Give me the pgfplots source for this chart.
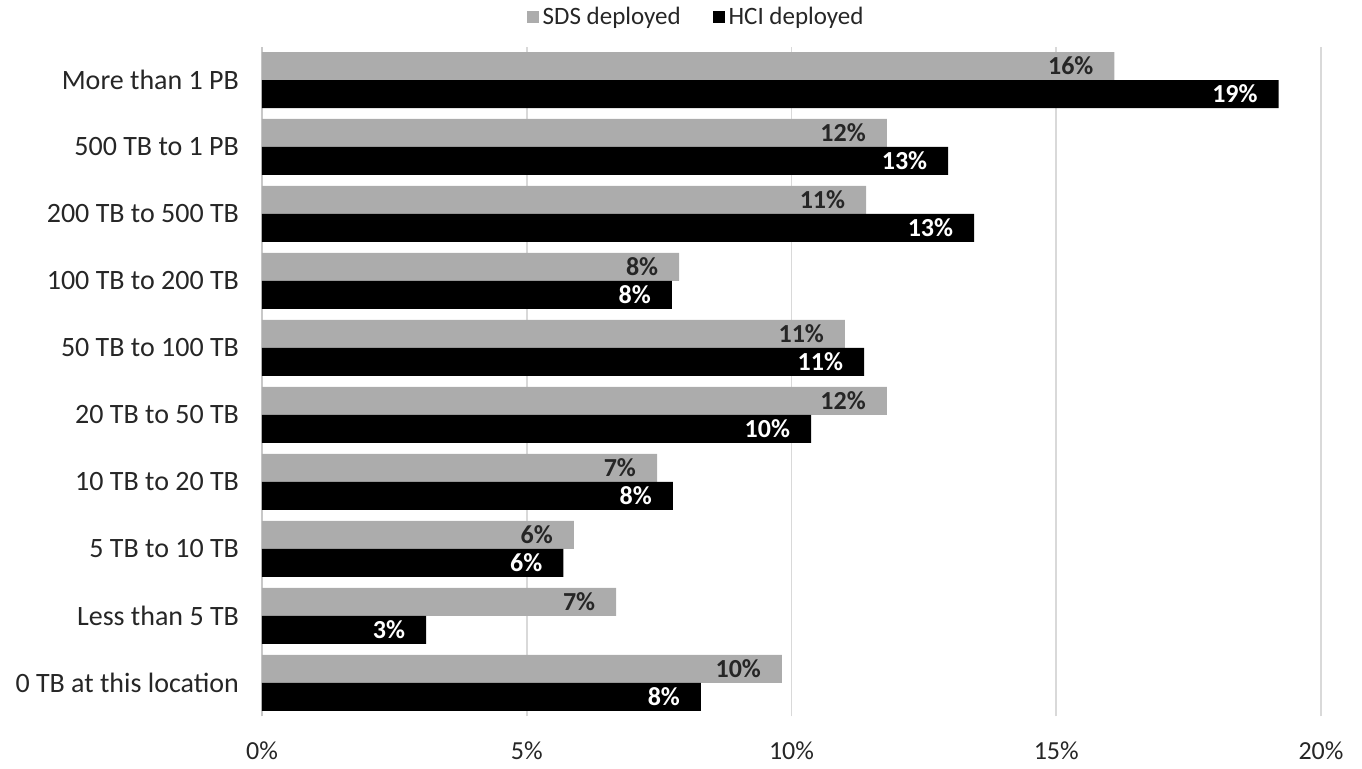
\documentclass[border=0pt]{standalone}
\usepackage{fontspec}
\setmainfont{Carlito}
\usepackage{pgfplots}
\pgfplotsset{compat=1.18}

\definecolor{sdsgray}{RGB}{172,172,172}
\definecolor{gridgray}{RGB}{217,217,217}
\definecolor{axisgray}{RGB}{200,200,200}
\definecolor{labeltext}{RGB}{38,38,38}

\begin{document}
\begin{tikzpicture}
\begin{axis}[
  at={(0pt,0pt)}, anchor=south west,
  scale only axis, width=529.5pt, height=335pt,
  xbar, bar width=14pt,
  xmin=0, xmax=20, ymin=-0.5, ymax=9.5,
  xtick={0,5,10,15,20},
  xticklabel={\pgfmathprintnumber{\tick}\%},
  ytick={0,1,2,3,4,5,6,7,8,9},
  yticklabels={0 TB at this location, Less than 5 TB, 5 TB to 10 TB,
    10 TB to 20 TB, 20 TB to 50 TB, 50 TB to 100 TB, 100 TB to 200 TB,
    200 TB to 500 TB, 500 TB to 1 PB, More than 1 PB},
  major tick length=0pt,
  xmajorgrids, grid style={gridgray, line width=0.9pt},
  extra x ticks={0}, extra x tick labels={},
  extra x tick style={grid style={axisgray, line width=0.9pt}},
  axis line style={draw=none},
  /pgf/number format/assume math mode=true,
  xticklabel style={font=\fontsize{13}{15}\selectfont, text=labeltext, yshift=-9pt},
  yticklabel style={font=\fontsize{14}{16}\selectfont, text=labeltext, xshift=-8pt},
  point meta=x,
  legend columns=2,
  legend style={at={(0.411,1)}, anchor=center, yshift=14.75pt,
    draw=none, fill=none, font=\fontsize{12.5}{14}\selectfont, text=labeltext,
    /tikz/every even column/.append style={column sep=14pt}},
]
% software-defined storage
\addplot+[forget plot, draw=none, fill=sdsgray, bar shift=7pt,
  nodes near coords={\pgfmathprintnumber[fixed,precision=0]{\pgfplotspointmeta}\%},
  every node near coord/.append style={anchor=east, xshift=-7pt, text=labeltext,
    font=\bfseries\fontsize{13}{15}\selectfont}]
  coordinates {
    (9.82,0) (6.69,1) (5.89,2) (7.46,3) (11.8,4)
    (11.01,5) (7.88,6) (11.41,7) (11.8,8) (16.1,9)
  };
% hyperconverged infrastructure
\addplot+[forget plot, draw=none, fill=black, bar shift=-7pt,
  nodes near coords={\pgfmathprintnumber[fixed,precision=0]{\pgfplotspointmeta}\%},
  every node near coord/.append style={anchor=east, xshift=-7pt, text=white,
    font=\bfseries\fontsize{13}{15}\selectfont}]
  coordinates {
    (8.29,0) (3.1,1) (5.69,2) (7.76,3) (10.37,4)
    (11.37,5) (7.74,6) (13.45,7) (12.96,8) (19.2,9)
  };
\addlegendimage{legend image code/.code={\fill[sdsgray] (0pt,-2.75pt) rectangle (5.5pt,2.75pt);}}
\addlegendentry{SDS deployed}
\addlegendimage{legend image code/.code={\fill[black] (0pt,-2.75pt) rectangle (5.5pt,2.75pt);}}
\addlegendentry{HCI deployed}
\end{axis}
\pgfresetboundingbox
\path[use as bounding box] (-131pt,-26.25pt) rectangle (550pt,358.25pt);
\end{tikzpicture}
\end{document}
